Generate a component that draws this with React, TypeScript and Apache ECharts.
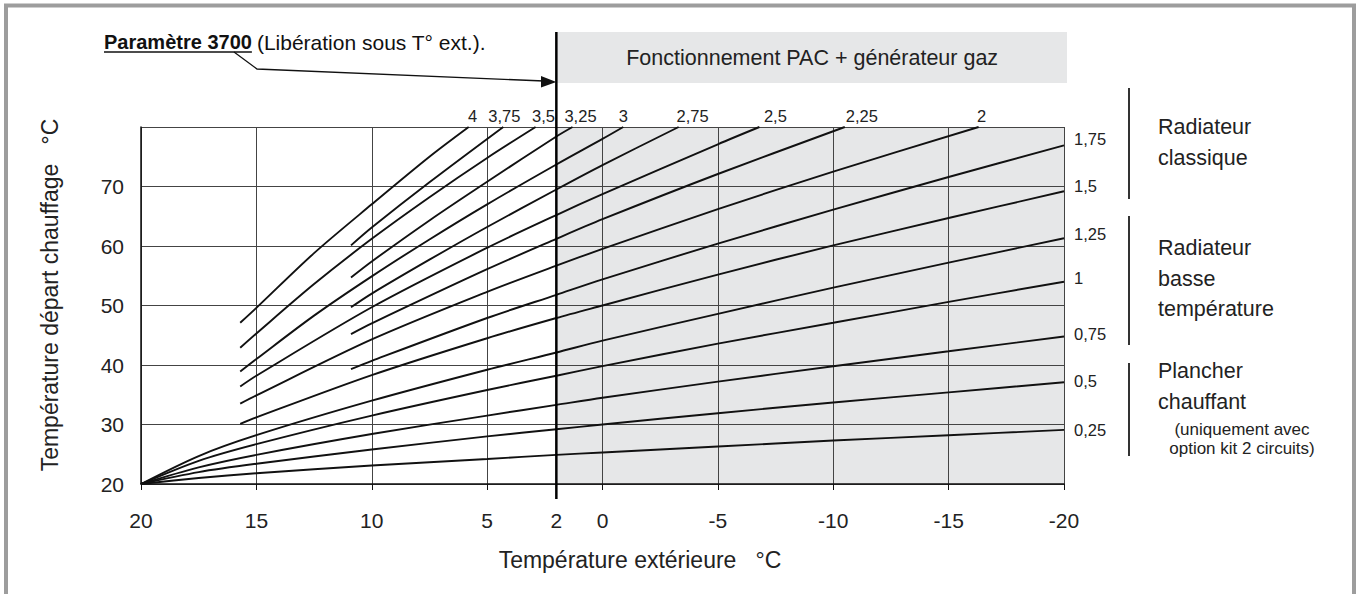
import React, { useEffect, useRef } from "react";
import * as echarts from "echarts";

const FONT = "'Liberation Sans', Arial, Helvetica, sans-serif";

// Outdoor temperature axis labels and flow temperature ticks
const outdoorLabels = [20, 15, 10, 5, 2, 0, -5, -10, -15, -20];
const flowTicks = [20, 30, 40, 50, 60, 70];

// Heating curves: [outdoor °C, flow °C]
const curve_4 = [[15.7, 47.1], [15, 49.6], [12.5, 58.8], [10, 67.0], [7.5, 75.0], [5.8, 80]];
const curve_3_75 = [[10.9, 60.1], [10, 63.1], [7.5, 70.7], [4.3, 80]];
const curve_3_5 = [[15.7, 42.9], [15, 45.3], [12.5, 53.6], [10, 61.2], [7.5, 68.2], [5, 74.8], [2.9, 80]];
const curve_3_25 = [[10.9, 54.7], [10, 57.4], [7.5, 64.3], [5, 70.8], [2, 78.4], [1.3, 80]];
const curve_3 = [[15.7, 38.9], [15, 41.0], [12.5, 48.3], [10, 54.9], [7.5, 61.1], [5, 67.0], [2, 73.7], [0, 78.0], [-0.9, 80]];
const curve_2_75 = [[10.9, 49.7], [10, 52.0], [7.5, 57.7], [5, 63.2], [2, 69.5], [0, 73.6], [-3.3, 80]];
const curve_2_5 = [[15.7, 36.4], [15, 38.2], [10, 49.7], [5, 59.7], [2, 65.2], [0, 68.7], [-5, 77.1], [-6.8, 80]];
const curve_2_25 = [[10.9, 45.2], [10, 47.0], [5, 56.1], [2, 61.2], [0, 64.5], [-5, 72.1], [-10.5, 80]];
const curve_2 = [[15.7, 33.5], [15, 34.9], [10, 44.3], [5, 52.3], [2, 56.7], [0, 59.5], [-5, 66.2], [-10, 72.5], [-16.3, 80]];
const curve_1_75 = [[10.9, 39.3], [10, 40.7], [5, 47.9], [2, 51.8], [0, 54.4], [-5, 60.4], [-10, 66.1], [-15, 71.6], [-20, 76.9]];
const curve_1_5 = [[15.7, 30.1], [15, 31.2], [10, 38.3], [5, 44.5], [2, 47.9], [0, 50.0], [-5, 55.2], [-10, 60.1], [-15, 64.7], [-20, 69.2]];
const curve_1_25 = [[20, 20], [17.5, 24.7], [15, 28.2], [10, 34.0], [5, 39.2], [2, 42.1], [0, 44.1], [-5, 48.6], [-10, 53.0], [-15, 57.2], [-20, 61.3]];
const curve_1 = [[20, 20], [17.5, 23.9], [15, 26.7], [10, 31.5], [5, 35.8], [2, 38.2], [0, 39.8], [-5, 43.6], [-10, 47.1], [-15, 50.6], [-20, 54.0]];
const curve_0_75 = [[20, 20], [17.5, 22.8], [15, 24.9], [10, 28.4], [5, 31.5], [2, 33.3], [0, 34.5], [-5, 37.2], [-10, 39.8], [-15, 42.3], [-20, 44.8]];
const curve_0_5 = [[20, 20], [17.5, 22.0], [15, 23.4], [10, 25.8], [5, 28.0], [2, 29.2], [0, 30.0], [-5, 31.9], [-10, 33.7], [-15, 35.4], [-20, 37.1]];
const curve_0_25 = [[20, 20], [17.5, 21.0], [15, 21.8], [10, 23.1], [5, 24.2], [2, 24.9], [0, 25.3], [-5, 26.3], [-10, 27.3], [-15, 28.2], [-20, 29.1]];

const curveNames = ["4", "3,75", "3,5", "3,25", "3", "2,75", "2,5", "2,25", "2", "1,75", "1,5", "1,25", "1", "0,75", "0,5", "0,25"];
const curves = [curve_4, curve_3_75, curve_3_5, curve_3_25, curve_3, curve_2_75, curve_2_5, curve_2_25, curve_2,
  curve_1_75, curve_1_5, curve_1_25, curve_1, curve_0_75, curve_0_5, curve_0_25];

// Label placement (style only)
const topLabelDx = [4, 1, 8, 8, 0, 14, 16, 17, 3];
const rightLabelDy = [-6, -5, -4, -4, -2, -1, 0];

// Operating zone: outdoor temperature threshold (parameter 3700)
const threshold = 2;

function measure(text: string, font: string) {
  const c = document.createElement("canvas").getContext("2d");
  if (!c) return text.length * 10;
  c.font = font;
  return c.measureText(text).width;
}

export default function App() {
  const ref = useRef<HTMLDivElement>(null);
  useEffect(() => {
    if (!ref.current) return;
    const chart = echarts.init(ref.current, null, { renderer: "svg" });
    const series: any[] = curves.map((pts, i) => {
      const last = pts.length - 1;
      const isTop = i < 9;
      return {
        type: "line",
        name: curveNames[i],
        z: 3,
        silent: true,
        smooth: 0.3,
        symbol: "circle",
        symbolSize: 0,
        showSymbol: true,
        showAllSymbol: true,
        lineStyle: { color: "#111", width: 1.9 },
        itemStyle: { color: "#111" },
        label: { show: false },
        data: pts.map((p, j) =>
          j === last
            ? {
                value: p,
                label: {
                  show: true,
                  formatter: curveNames[i],
                  position: isTop ? "top" : "right",
                  distance: isTop ? 3 : 10,
                  offset: isTop ? [topLabelDx[i], 0] : [0, rightLabelDy[i - 9]],
                  fontSize: 16.5,
                  fontFamily: FONT,
                  color: "#222",
                },
              }
            : p
        ),
      };
    });
    series.push({
      type: "line",
      silent: true,
      data: [],
      markArea: {
        silent: true,
        z: 1,
        itemStyle: { color: "#e6e7e8" },
        data: [[{ coord: [threshold, 20] }, { coord: [-20, 80] }]],
      },
    });

    chart.setOption({
      animation: false,
      textStyle: { fontFamily: FONT },
      grid: { left: 141, top: 127, width: 923, height: 357 },
      xAxis: {
        type: "value",
        min: -20,
        max: 20,
        interval: 5,
        inverse: true,
        z: 2,
        axisLine: { onZero: false, lineStyle: { color: "#111", width: 1.5 } },
        axisTick: { show: true, length: 6, lineStyle: { color: "#111" } },
        splitLine: { show: true, lineStyle: { color: "#444", width: 1 } },
        axisLabel: {
          customValues: outdoorLabels,
          fontSize: 21,
          color: "#222",
          margin: 26,
        },
      },
      yAxis: {
        type: "value",
        min: 20,
        max: 80,
        interval: 10,
        z: 2,
        axisLine: { show: true, onZero: false, lineStyle: { color: "#111", width: 1.5 } },
        axisTick: { show: false },
        splitLine: { show: true, lineStyle: { color: "#444", width: 1 } },
        axisLabel: {
          fontSize: 21,
          color: "#222",
          margin: 17,
          formatter: (v: number) => (flowTicks.includes(v) ? String(v) : ""),
        },
      },
      series,
    });

    const px = (x: number, y: number) => chart.convertToPixel({ gridIndex: 0 }, [x, y]) as number[];
    const tl = px(threshold, 80);
    const br = px(-20, 20);
    const bx = tl[0];

    const boldFont = `bold 20px ${FONT}`;
    const regFont = `21px ${FONT}`;
    const pText = "Paramètre 3700";
    const pW = measure(pText, boldFont);
    const pX = 104;

    const els: any[] = [
      // outer frame
      { type: "rect", shape: { x: 6, y: 5.5, width: 1348, height: 640 }, style: { fill: "none", stroke: "#9d9d9d", lineWidth: 4 }, z: 10 },
      // top gray box
      { type: "rect", shape: { x: bx, y: 32, width: br[0] + 3 - bx, height: 51 }, style: { fill: "#e6e7e8" }, z: 1 },
      {
        type: "text", x: (bx + br[0]) / 2 + 2, y: 58, z: 5,
        style: { text: "Fonctionnement PAC + générateur gaz", font: `21.5px ${FONT}`, fill: "#222", align: "center", verticalAlign: "middle" },
      },
      // bold threshold line
      { type: "line", shape: { x1: bx, y1: 32, x2: bx, y2: br[1] + 15 }, style: { stroke: "#000", lineWidth: 2.5 }, z: 6 },
      // annotation
      { type: "text", x: pX, y: 42, z: 5, style: { text: pText, font: boldFont, fill: "#111", verticalAlign: "middle" } },
      { type: "line", shape: { x1: pX, y1: 52, x2: pX + pW, y2: 52 }, style: { stroke: "#111", lineWidth: 1.5 }, z: 5 },
      { type: "text", x: pX + pW + 5, y: 42, z: 5, style: { text: "(Libération sous T° ext.).", font: regFont, fill: "#111", verticalAlign: "middle" } },
      { type: "polyline", shape: { points: [[234, 52], [257, 69], [544, 81]] }, style: { stroke: "#111", lineWidth: 1.3, fill: "none" }, z: 5 },
      { type: "polygon", shape: { points: [[bx, 82], [541, 76], [541, 87.5]] }, style: { fill: "#111" }, z: 6 },
      // axis titles
      {
        type: "text", x: 50, y: 295, rotation: Math.PI / 2, z: 5,
        style: { text: "Température départ chauffage   °C", font: `23px ${FONT}`, fill: "#222", align: "center", verticalAlign: "middle" },
      },
      {
        type: "text", x: 640, y: 560, z: 5,
        style: { text: "Température extérieure   °C", font: `23px ${FONT}`, fill: "#222", align: "center", verticalAlign: "middle" },
      },
      // right brackets
      { type: "line", shape: { x1: 1129, y1: 88, x2: 1129, y2: 199 }, style: { stroke: "#333", lineWidth: 2 } },
      { type: "line", shape: { x1: 1129, y1: 216, x2: 1129, y2: 345 }, style: { stroke: "#333", lineWidth: 2 } },
      { type: "line", shape: { x1: 1129, y1: 363, x2: 1129, y2: 456 }, style: { stroke: "#333", lineWidth: 2 } },
    ];
    const sideTexts: [string, number][] = [
      ["Radiateur", 127], ["classique", 158],
      ["Radiateur", 248], ["basse", 279], ["température", 309],
      ["Plancher", 371], ["chauffant", 402],
    ];
    sideTexts.forEach(([t, y]) =>
      els.push({ type: "text", x: 1158, y, z: 5, style: { text: t, font: `21.5px ${FONT}`, fill: "#222", verticalAlign: "middle" } })
    );
    els.push({ type: "text", x: 1242, y: 429, z: 5, style: { text: "(uniquement avec", font: `17px ${FONT}`, fill: "#222", align: "center", verticalAlign: "middle" } });
    els.push({ type: "text", x: 1242, y: 448, z: 5, style: { text: "option kit 2 circuits)", font: `17px ${FONT}`, fill: "#222", align: "center", verticalAlign: "middle" } });

    chart.setOption({ graphic: { elements: els } });
    return () => chart.dispose();
  }, []);
  return <div ref={ref} style={{ position: "fixed", left: 0, top: 0, width: 1362, height: 594, background: "#fff" }} />;
}
